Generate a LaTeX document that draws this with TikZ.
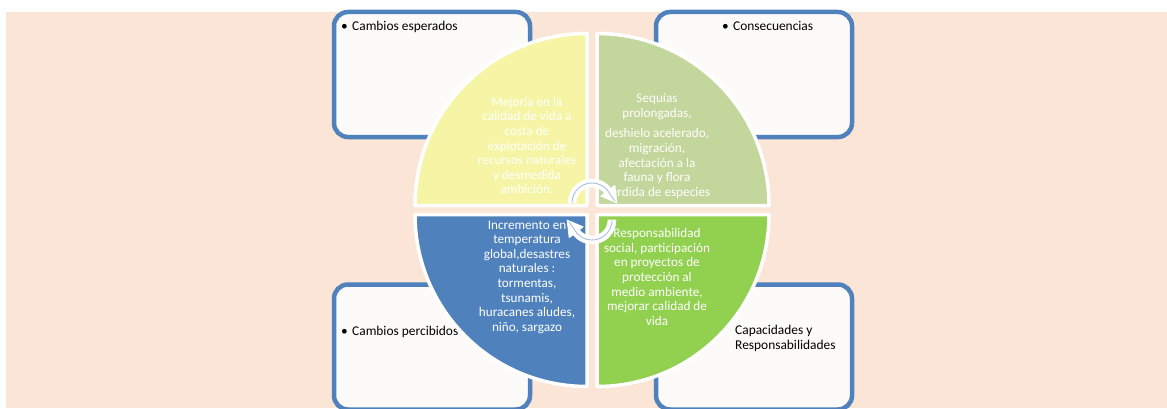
\documentclass[tikz,border=0pt]{standalone}
\usepackage{fontspec}
\setmainfont{Carlito}
\usepackage{xcolor}
\usepackage{tikz}
\usetikzlibrary{positioning}
\definecolor{fondo}{HTML}{FBE5D6}
\definecolor{azul}{HTML}{4F81BD}
\definecolor{amarillo}{HTML}{F5F5A5}
\definecolor{olivo}{HTML}{C3D69B}
\definecolor{verde}{HTML}{92D050}
\definecolor{celeste}{HTML}{A9BEE0}
\definecolor{papel}{HTML}{FCFBF9}
\tikzset{
    caja/.style = {draw=azul, line width=4.5pt, fill=papel, rounded corners=14pt, minimum width=196pt, minimum height=125pt},
    cuarto/.style = {draw=white, line width=3.5pt, line join=round},
    texto/.style = {font=\fontsize{13.2}{14.6}\selectfont, align=center, text=white, inner sep=0pt},
    etiqueta/.style = {font=\fontsize{13.4}{15}\selectfont, align=left, inner sep=0pt},
}

\begin{document}
\begin{tikzpicture}[x=1pt, y=1pt]
\tikzset{
    flecha/.style = {fill=white, draw=white, line width=0.6pt, line join=round},
    hilo/.style = {draw=celeste, line width=0.9pt, line cap=round, line join=round}
}
\useasboundingbox (0,0) rectangle (1167,408);
\clip (0,0) rectangle (1167,408);
\fill[fondo] (6,0) rectangle (1167,396);
% cajas
\node[caja] at (432,333.5) (esp) {};
\node[caja] at (754,333.5) (con) {};
\node[caja] at (432,61) (per) {};
\node[caja] at (754,61) (cap) {};
\node[etiqueta, anchor=base west] at (341,377) (tesp) {\makebox[11pt][l]{\textbullet}Cambios esperados};
\node[etiqueta, anchor=base west] at (722,377) (tcon) {\makebox[11pt][l]{\textbullet}Consecuencias};
\node[etiqueta, anchor=base west] at (341,73) (tper) {\makebox[11pt][l]{\textbullet}Cambios percibidos};
\node[etiqueta, anchor=north west] at (735,83) (tcap) {Capacidades y\\Responsabilidades};
% cuartos de circulo
\filldraw[cuarto, fill=amarillo] (587,202.5) -- ++(-172,0) arc[start angle=180, end angle=90, radius=172] -- cycle;
\filldraw[cuarto, fill=olivo] (597,202.5) -- ++(0,172) arc[start angle=90, end angle=0, radius=172] -- cycle;
\filldraw[cuarto, fill=azul] (587,193.5) -- ++(0,-172) arc[start angle=270, end angle=180, radius=172] -- cycle;
\filldraw[cuarto, fill=verde] (597,193.5) -- ++(172,0) arc[start angle=0, end angle=-90, radius=172] -- cycle;
%
\node[texto] at (527,262.5) (mej) {Mejoría en la\\calidad de vida a\\costa de\\explotación de\\recursos naturales\\y desmedida\\ambición.};
\node[texto] at (657,262) (seq) {Sequías\\prolongadas,\\[6pt]deshielo acelerado,\\migración,\\afectación a la\\fauna y flora\\pérdida de especies};
\node[texto] at (527,131) (inc) {Incremento en\\temperatura\\global,desastres\\naturales :\\tormentas,\\tsunamis,\\huracanes aludes,\\niño, sargazo};
\node[texto] at (657,131) (res) {Responsabilidad\\social, participación\\en proyectos de\\protección al\\medio ambiente,\\mejorar calidad de\\vida};
% flechas del centro
\begin{scope}[shift={(592,205)}]
\filldraw[flecha] (180:24) arc[start angle=180, end angle=38, radius=24] -- (38:29) -- (0:25) -- (38:11) -- (38:16) arc[start angle=38, end angle=180, radius=16] -- cycle;
\draw[hilo] (178:20) arc[start angle=178, end angle=40, radius=20] -- (5:23);
\end{scope}
\begin{scope}[shift={(592,188)}, rotate=180]
\filldraw[flecha] (180:24) arc[start angle=180, end angle=38, radius=24] -- (38:29) -- (0:25) -- (38:11) -- (38:16) arc[start angle=38, end angle=180, radius=16] -- cycle;
\draw[hilo] (178:20) arc[start angle=178, end angle=40, radius=20] -- (5:23);
\end{scope}
\end{tikzpicture}
\end{document}
